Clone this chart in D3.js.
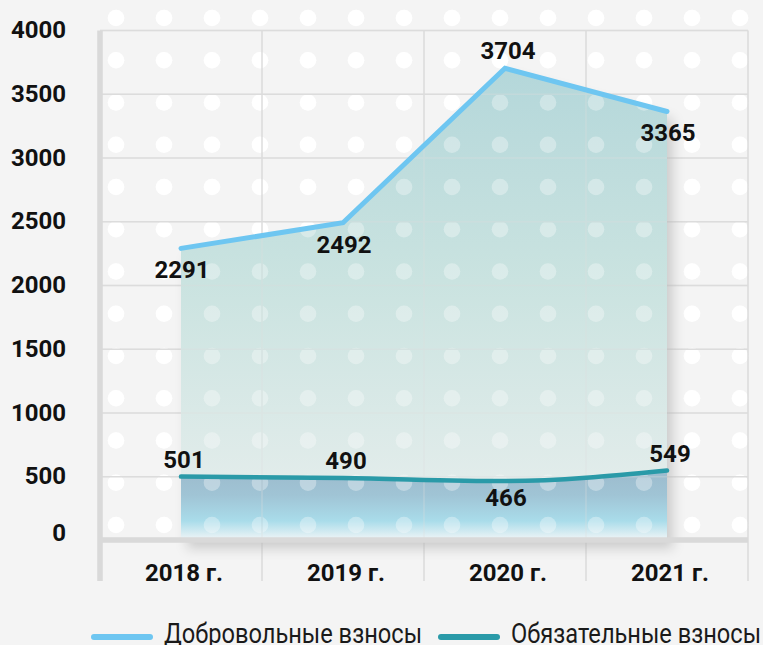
<!DOCTYPE html>
<html><head><meta charset="utf-8">
<script src="https://cdn.jsdelivr.net/npm/d3@7"></script>
<style>
html,body{margin:0;padding:0;background:#f4f4f4;}
svg{display:block;}
text{font-family:Roboto,"Noto Sans",sans-serif;}
</style></head><body>
<svg id="chart" width="763" height="645"></svg>
<script>
// ---- data ----
const years = ["2018 г.", "2019 г.", "2020 г.", "2021 г."];
const voluntary = [2291, 2492, 3704, 3365];
const mandatory = [501, 490, 466, 549];
const yTicks = [0, 500, 1000, 1500, 2000, 2500, 3000, 3500, 4000];
const seriesNames = ["Добровольные взносы", "Обязательные взносы"];

// ---- styles ----
const volColor = "#6ec6f1", manColor = "#2a9aa8";
const gridColor = "#dcdcdc", axisColor = "#d9d9d9";

const svg = d3.select("#chart");
const left = 100, right = 748;
const x = d3.scaleBand().domain(years).range([left, right]);
const cx = d => x(d) + x.bandwidth() / 2;
const y = d3.scaleLinear().domain([0, 4000]).range([540.5, 30.5]);
const gridBottom = 581;

const defs = svg.append("defs");
const gV = defs.append("linearGradient").attr("id", "gVol")
  .attr("gradientUnits", "userSpaceOnUse").attr("x1", 0).attr("x2", 0)
  .attr("y1", y(3704)).attr("y2", y(0));
gV.append("stop").attr("offset", "0%").attr("stop-color", "#b4d7da");
gV.append("stop").attr("offset", "45%").attr("stop-color", "#cae3e0");
gV.append("stop").attr("offset", "100%").attr("stop-color", "#e9efee");
const gM = defs.append("linearGradient").attr("id", "gMan")
  .attr("gradientUnits", "userSpaceOnUse").attr("x1", 0).attr("x2", 0)
  .attr("y1", y(549)).attr("y2", y(0));
gM.append("stop").attr("offset", "0%").attr("stop-color", "#9cbbcd");
gM.append("stop").attr("offset", "35%").attr("stop-color", "#a0c4d5");
gM.append("stop").attr("offset", "72%").attr("stop-color", "#a9dcea");
gM.append("stop").attr("offset", "100%").attr("stop-color", "#f3f6f7");
const f = defs.append("filter").attr("id", "shadow")
  .attr("x", "-10%").attr("y", "-10%").attr("width", "130%").attr("height", "130%");
f.append("feDropShadow").attr("dx", 6).attr("dy", 8).attr("stdDeviation", 6)
  .attr("flood-color", "#000").attr("flood-opacity", 0.16);

// ---- decorative dots + grid ----
function decor(g) {
  const cols = d3.range(14), rows = d3.range(13);
  const pts = [];
  rows.forEach(r => cols.forEach(c => pts.push([116 + c * 48, 18 + r * 42.25])));
  g.selectAll("circle").data(pts).join("circle")
    .attr("cx", d => d[0]).attr("cy", d => d[1]).attr("r", 8.3).attr("fill", "#fff");
  g.selectAll("line.h").data(yTicks.filter(t => t > 0)).join("line").attr("class", "h")
    .attr("x1", left).attr("x2", right).attr("y1", d => y(d)).attr("y2", d => y(d))
    .attr("stroke", gridColor).attr("stroke-width", 1.5);
  g.selectAll("line.v").data(years).join("line").attr("class", "v")
    .attr("x1", d => x(d) + x.bandwidth()).attr("x2", d => x(d) + x.bandwidth())
    .attr("y1", y(4000)).attr("y2", gridBottom)
    .attr("stroke", gridColor).attr("stroke-width", 1.5);
}
decor(svg.append("g"));

// ---- areas ----
const areaG = svg.append("g").attr("filter", "url(#shadow)");
const volArea = d3.area().x((d, i) => cx(years[i])).y0(y(0)).y1(d => y(d));
const manArea = d3.area().x((d, i) => cx(years[i])).y0(y(0)).y1(d => y(d)).curve(d3.curveMonotoneX);
areaG.append("path").attr("d", volArea(voluntary)).attr("fill", "url(#gVol)");
areaG.append("path").attr("d", manArea(mandatory)).attr("fill", "url(#gMan)");

// translucent decor over the areas
decor(svg.append("g").attr("opacity", 0.33));

// axes lines
svg.append("line").attr("x1", left).attr("x2", left).attr("y1", y(4000)).attr("y2", gridBottom)
  .attr("stroke", axisColor).attr("stroke-width", 5.5);
svg.append("line").attr("x1", left).attr("x2", right).attr("y1", y(0) - 0.5).attr("y2", y(0) - 0.5)
  .attr("stroke", axisColor).attr("stroke-width", 5.5);

// ---- lines ----
const volLine = d3.line().x((d, i) => cx(years[i])).y(d => y(d));
const manLine = d3.line().x((d, i) => cx(years[i])).y(d => y(d)).curve(d3.curveMonotoneX);
svg.append("path").attr("d", volLine(voluntary)).attr("fill", "none")
  .attr("stroke", volColor).attr("stroke-width", 5).attr("stroke-linejoin", "miter").attr("stroke-linecap", "round");
svg.append("path").attr("d", manLine(mandatory)).attr("fill", "none")
  .attr("stroke", manColor).attr("stroke-width", 4.5).attr("stroke-linecap", "round");

// ---- y axis labels ----
const yAxis = d3.axisLeft(y).tickValues(yTicks).tickSize(0).tickPadding(0).tickFormat(d3.format("d"));
const ya = svg.append("g").attr("transform", "translate(66,0)").call(yAxis);
ya.select(".domain").remove();
ya.selectAll("text").attr("font-size", 24).attr("font-weight", 700).attr("fill", "#111")
  .attr("font-family", "Roboto").attr("dy", d => d === 0 ? "0em" : "0.3em");

// ---- x axis labels ----
const xAxis = d3.axisBottom(x).tickSize(0).tickPadding(0);
const xa = svg.append("g").attr("transform", "translate(3,563)").call(xAxis);
xa.select(".domain").remove();
xa.selectAll("text").attr("font-size", 24).attr("font-weight", 700).attr("fill", "#111")
  .attr("font-family", "Roboto").attr("dy", "0.75em");

// ---- value labels ----
function valueLabels(vals, placeAbove, belowOff) {
  svg.append("g").selectAll("text").data(vals).join("text")
    .attr("x", (d, i) => cx(years[i]) + (placeAbove(d, vals) ? 3 : 1))
    .attr("y", d => placeAbove(d, vals) ? y(d) - 9 : y(d) + belowOff)
    .attr("text-anchor", "middle").attr("font-size", 24).attr("font-weight", 700)
    .attr("fill", "#111").text(d => d);
}
valueLabels(voluntary, (d, a) => d === d3.max(a), 30);
valueLabels(mandatory, (d, a) => d !== d3.min(a), 25);

// ---- legend ----
const legend = [
  {name: seriesNames[0], color: volColor, x0: 94, w: 258},
  {name: seriesNames[1], color: manColor, x0: 441, w: 250}
];
const lg = svg.append("g").selectAll("g").data(legend).join("g")
  .attr("transform", d => `translate(${d.x0},637)`);
lg.append("line").attr("x1", 0).attr("x2", 56).attr("y1", 0).attr("y2", 0)
  .attr("stroke", d => d.color).attr("stroke-width", 6).attr("stroke-linecap", "round");
lg.append("text").attr("x", d => d.x0 === 94 ? 70 : 70).attr("y", 5.5).attr("font-size", 27).attr("font-weight", 400)
  .attr("textLength", d => d.w).attr("lengthAdjust", "spacingAndGlyphs")
  .attr("fill", "#1a1a1a").text(d => d.name);
</script>
</body></html>
